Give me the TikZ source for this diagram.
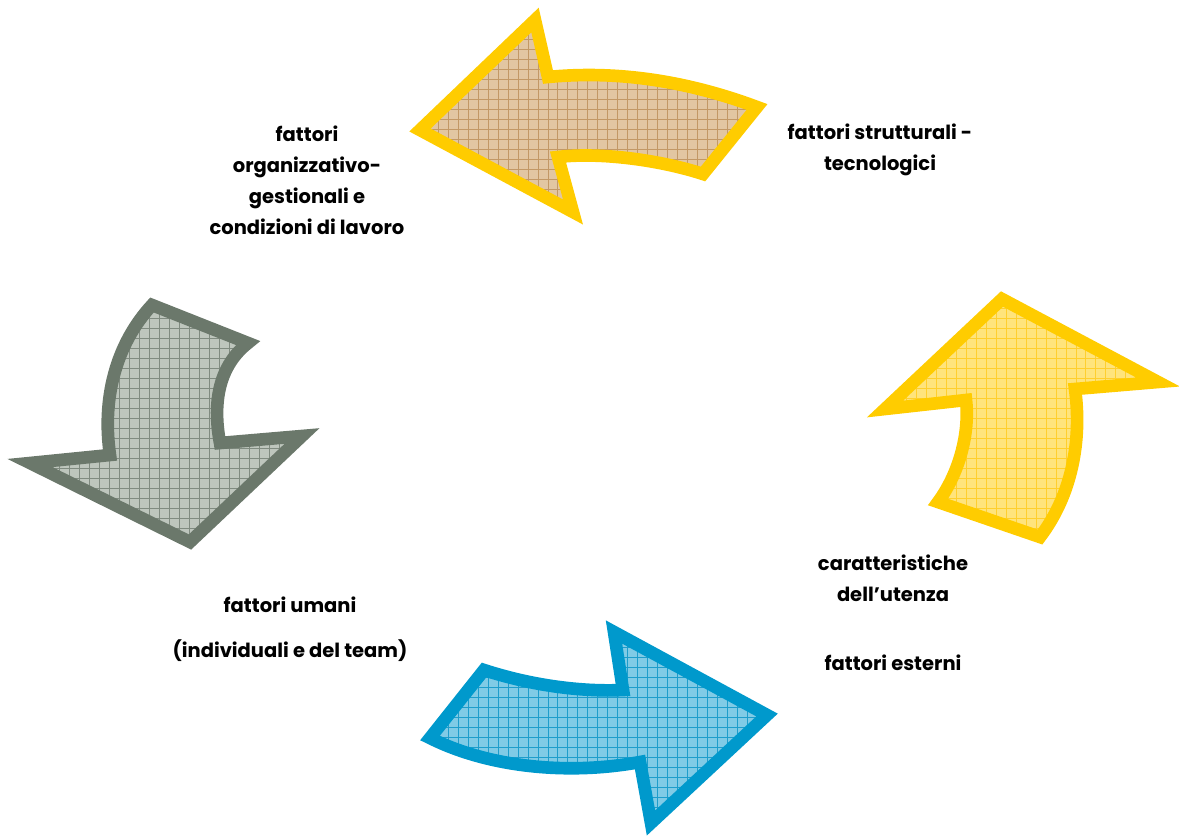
\documentclass[tikz,border=0pt]{standalone}
\usepackage{fontspec}
\setmainfont{Poppins}
\begin{document}
\begin{tikzpicture}[x=0.02cm,y=-0.02cm,line join=miter,
  lbl/.style={font=\bfseries\fontsize{11.1}{17.6}\selectfont,align=center,inner sep=0pt},
  gridfill/.style 2 args={fill=#1,path picture={\draw[#2,line width=0.45pt]
     (path picture bounding box.south west) grid[step=5.67pt] (path picture bounding box.north east);}},
  outline/.style={draw=#1,line width=7.2pt}]
\definecolor{yel}{HTML}{FFCC00}
\definecolor{tanf}{HTML}{E2C6A2}
\definecolor{tang}{HTML}{C29866}
\definecolor{grayo}{HTML}{6B786B}
\definecolor{grayf}{HTML}{BEC6BD}
\definecolor{grayg}{HTML}{808B80}
\definecolor{yelf}{HTML}{FFE47C}
\definecolor{yelg}{HTML}{FFCF2E}
\definecolor{blueo}{HTML}{0099CC}
\definecolor{bluef}{HTML}{80CBE6}
\definecolor{blueg}{HTML}{1E9DCB}
\useasboundingbox (0,0) rectangle (1179,836);
% top arrow
\path[gridfill={tanf}{tang}] (420,130) -- (535,20) -- (548,77) .. controls (620,70) and (690,82) .. (757,107) -- (703,174) .. controls (660,160) and (600,152) .. (558,157) -- (573,212) -- cycle;
\path[outline=yel] (420,130) -- (535,20) -- (548,77) .. controls (620,70) and (690,82) .. (757,107) -- (703,174) .. controls (660,160) and (600,152) .. (558,157) -- (573,212) -- cycle;
% left arrow
\path[gridfill={grayf}{grayg}] (152,305) -- (248,343) .. controls (220,365) and (212,400) .. (220,443) -- (302,436) -- (190,542) -- (30,463) -- (110,455) .. controls (102,400) and (115,345) .. cycle;
\path[outline=grayo] (152,305) -- (248,343) .. controls (220,365) and (212,400) .. (220,443) -- (302,436) -- (190,542) -- (30,463) -- (110,455) .. controls (102,400) and (115,345) .. cycle;
% right arrow
\path[gridfill={yelf}{yelg}] (1002,299) -- (1158,382) -- (1075,389) .. controls (1082,440) and (1072,495) .. (1040,537) -- (938,502) .. controls (958,475) and (970,435) .. (966,400) -- (885,409) -- cycle;
\path[outline=yel] (1002,299) -- (1158,382) -- (1075,389) .. controls (1082,440) and (1072,495) .. (1040,537) -- (938,502) .. controls (958,475) and (970,435) .. (966,400) -- (885,409) -- cycle;
% bottom arrow
\path[gridfill={bluef}{blueg}] (430,738) -- (484,670) .. controls (530,685) and (580,692) .. (623,690) -- (614,632) -- (767,715) -- (651,823) -- (640,762) .. controls (570,775) and (490,768) .. cycle;
\path[outline=blueo] (430,738) -- (484,670) .. controls (530,685) and (580,692) .. (623,690) -- (614,632) -- (767,715) -- (651,823) -- (640,762) .. controls (570,775) and (490,768) .. cycle;
% labels
\node[lbl] (org) at (307,180) {fattori\\organizzativo-\\gestionali e\\condizioni di lavoro};
\node[lbl] (str) at (880,150) {fattori strutturali -\\tecnologici};
\node[lbl] (uma) at (290,629) {fattori umani\\[8pt](individuali e del team)};
\node[lbl] (ute) at (893,613) {caratteristiche\\dell’utenza\\[22pt]fattori esterni};
\end{tikzpicture}
\end{document}
